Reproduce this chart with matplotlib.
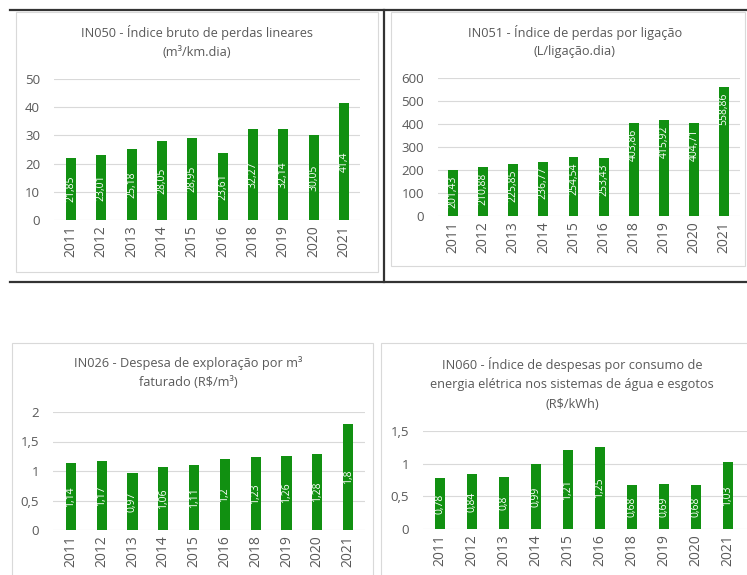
import matplotlib
matplotlib.use("Agg")
import matplotlib.pyplot as plt
from matplotlib.patches import Rectangle
from matplotlib.lines import Line2D

plt.rcParams['font.family'] = ['Open Sans', 'DejaVu Sans']

years = ['2011', '2012', '2013', '2014', '2015', '2016', '2018', '2019', '2020', '2021']
in050 = [21.85, 23.01, 25.18, 28.05, 28.95, 23.61, 32.27, 32.14, 30.05, 41.4]
in051 = [201.43, 210.88, 225.85, 236.77, 254.54, 253.43, 403.86, 415.92, 404.71, 558.86]
in026 = [1.14, 1.17, 0.97, 1.06, 1.11, 1.2, 1.23, 1.26, 1.28, 1.8]
in060 = [0.78, 0.84, 0.8, 0.99, 1.21, 1.25, 0.68, 0.69, 0.68, 1.03]

titles = [
    "IN050 - Índice bruto de perdas lineares\n(m³/km.dia)",
    "IN051 - Índice de perdas por ligação\n(L/ligação.dia)",
    "IN026 - Despesa de exploração por m³\nfaturado (R$/m³)",
    "IN060 - Índice de despesas por consumo de\nenergia elétrica nos sistemas de água e esgotos\n(R$/kWh)",
]
yticks = [[0, 10, 20, 30, 40, 50], [0, 100, 200, 300, 400, 500, 600],
          [0, 0.5, 1, 1.5, 2], [0, 0.5, 1, 1.5]]
ytick_labels = [["0", "10", "20", "30", "40", "50"],
                ["0", "100", "200", "300", "400", "500", "600"],
                ["0", "0,5", "1", "1,5", "2"],
                ["0", "0,5", "1", "1,5"]]

W, H = 747, 575
GREEN = '#119011'
GRAY = '#595959'
GRID = '#d9d9d9'

fig = plt.figure(figsize=(W / 100, H / 100), dpi=100)
fig.patch.set_facecolor('white')


def fx(x):
    return x / W


def fy(y):
    return 1 - y / H


def box(x0, y0, x1, y1, color=GRID, lw=0.8):
    fig.patches.append(Rectangle((fx(x0), fy(y1)), fx(x1) - fx(x0), fy(y0) - fy(y1),
                                 transform=fig.transFigure, fill=False,
                                 edgecolor=color, linewidth=lw, zorder=0))


def hline(x0, x1, y, color='#333333', lw=1.6):
    fig.lines.append(Line2D([fx(x0), fx(x1)], [fy(y), fy(y)], transform=fig.transFigure,
                            color=color, linewidth=lw))


def vline(x, y0, y1, color='#333333', lw=1.6):
    fig.lines.append(Line2D([fx(x), fx(x)], [fy(y0), fy(y1)], transform=fig.transFigure,
                            color=color, linewidth=lw))


# chart area boxes
box(16, 12, 378, 272)
box(391, 12, 745, 266)
box(12, 343, 373, 580)
box(381, 343, 750, 580)

# separating black lines
hline(10, 747, 10)
hline(10, 747, 282)
vline(384, 10, 282)

# axes specs: (x0, x1, ytop, ybottom) in px, xlim, ylim, data, label mode, title y, title x
specs = [
    (54, 360, 79, 220, (-0.56, 9.53), (0, 50), in050, 'center', 33, 197),
    (438, 740, 78, 216, (-0.5, 9.53), (0, 600), in051, 'end', 32, 575),
    (53, 365, 412, 530, (-0.58, 9.55), (0, 2), in026, 'center', 363, 188),
    (423, 747, 431, 529, (-0.53, 9.6), (0, 1.5), in060, 'center', 365, 572),
]

for i, (x0, x1, yt, yb, xl, yl, data, mode, ty, tx) in enumerate(specs):
    ax = fig.add_axes([fx(x0), fy(yb), fx(x1) - fx(x0), fy(yt) - fy(yb)])
    xs = list(range(len(years)))
    ax.bar(xs, data, width=0.33, color=GREEN, zorder=3)
    ax.set_xlim(*xl)
    ax.set_ylim(*yl)
    ax.set_yticks(yticks[i])
    ax.set_yticklabels(ytick_labels[i])
    ax.set_xticks(xs)
    ax.set_xticklabels(years, rotation=90)
    ax.tick_params(axis='both', length=0, colors=GRAY)
    ax.tick_params(axis='x', pad=4, labelsize=10)
    ax.tick_params(axis='y', pad=10, labelsize=9.5)
    for s in ax.spines.values():
        s.set_visible(False)
    ax.yaxis.grid(True, color=GRID, linewidth=0.8, zorder=0)
    ax.set_axisbelow(True)
    ax.set_facecolor('none')
    for xv, v in zip(xs, data):
        lab = f"{v:g}".replace('.', ',')
        if mode == 'center':
            ax.text(xv, v / 2, lab, rotation=90, ha='center', va='center',
                    color='white', fontsize=7.5, zorder=4)
        else:
            ax.annotate(lab, (xv, v), xytext=(0, -4), textcoords='offset points',
                        rotation=90, ha='center', va='top', color='white',
                        fontsize=7.5, zorder=4)
    lines = titles[i].split('\n')
    for k, line in enumerate(lines):
        fig.text(fx(tx), fy(ty + k * 19.5), line, ha='center', va='center',
                 color=GRAY, fontsize=9.2)

fig.savefig('out.png', dpi=100, facecolor='white')
